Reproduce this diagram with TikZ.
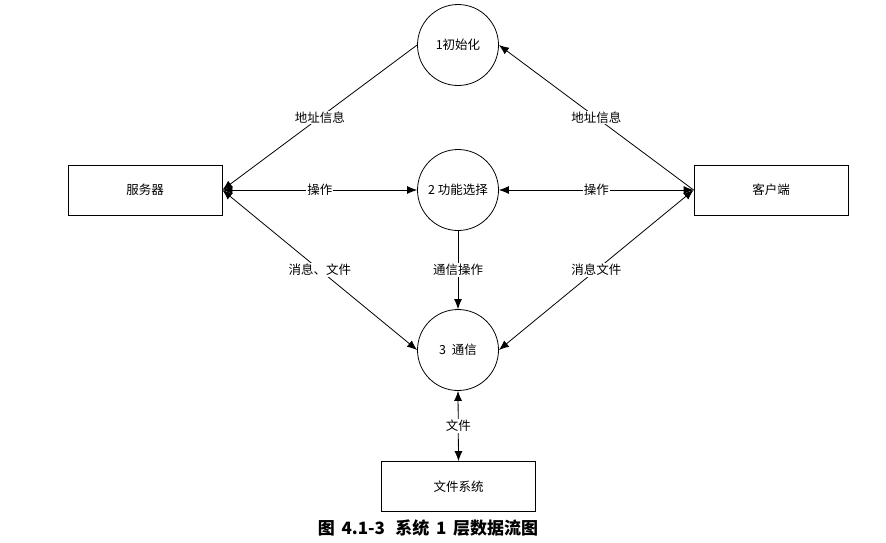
\documentclass[tikz,border=0pt]{standalone}
\usepackage{fontspec}
\setmainfont{Noto Sans CJK SC}
\usetikzlibrary{arrows.meta}

\begin{document}
\begin{tikzpicture}[x=1pt,y=-1pt,line width=0.8pt,
  every node/.style={font=\fontsize{12.5}{15}\selectfont},
  proc/.style={shape=circle,draw=black,minimum size=81pt,inner sep=0pt},
  store/.style={shape=rectangle,draw=black,minimum width=154pt,minimum height=50pt},
  flow/.style={-{Latex[length=10pt,width=8pt]}},
  bflow/.style={{Latex[length=10pt,width=8pt]}-{Latex[length=10pt,width=8pt]}},
  lbl/.style={fill=white,inner sep=1pt}]
			\useasboundingbox (0,0) rectangle (886,542);
			\node[proc] (init) at (458,45) {1初始化};
			\node[proc] (func) at (458,190) {2 功能选择};
			\node[proc] (comm) at (458,350) {3\ \ 通信};
			\node[store] (srv) at (145,190) {服务器};
			\node[store] (cli) at (771,190) {客户端};
			\node[store] (fs) at (458.5,486.5) {文件系统};
			\path[flow](init.west) edge node[lbl] {地址信息} (srv.east);
			\path[flow](cli.west) edge node[lbl] {地址信息} (init.east);
			\path[bflow](srv.east) edge node[lbl] {操作} (func.west);
			\path[bflow](cli.west) edge node[lbl] {操作} (func.east);
			\path[bflow](srv.east) edge node[lbl] {消息、文件} (comm.west);
			\path[bflow](cli.west) edge node[lbl] {消息文件} (comm.east);
			\path[flow](func.south) edge node[lbl] {通信操作} (comm.north);
			\path[bflow](comm.south) edge node[lbl] {文件} (fs.north);
			
			\node[font=\fontsize{17}{20}\selectfont\bfseries] (cap) at (428,528) {图\hspace{0.4em}4.1-3\hspace{0.6em}系统\hspace{0.4em}1\hspace{0.4em}层数据流图};
\end{tikzpicture}
\end{document}
